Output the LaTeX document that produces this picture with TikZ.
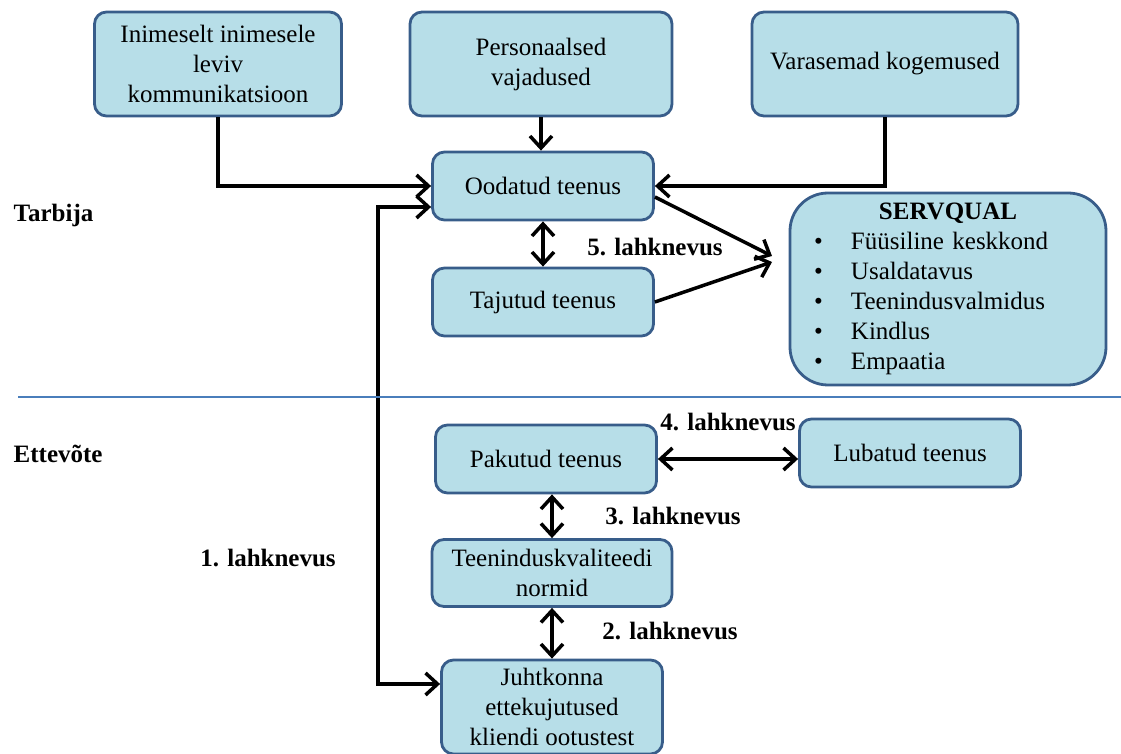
\documentclass[tikz,border=0pt]{standalone}
\usepackage{fontspec}
\setmainfont{Liberation Serif}
\usetikzlibrary{arrows.meta,positioning}
\definecolor{boxfill}{HTML}{B7DEE8}
\definecolor{boxline}{HTML}{385D8A}
\definecolor{sepline}{HTML}{4A7EBB}
\newcommand{\servitem}[1]{\makebox[158pt][l]{\hspace*{12pt}\makebox[18.5pt][l]{\textbullet}#1}}

\begin{document}
\begin{tikzpicture}[x=0.5pt,y=-0.5pt,on grid,line width=1.75pt,
      >={Straight Barb[length=6pt,width=11pt]},
      font=\fontsize{12.5pt}{15pt}\selectfont,
      teenus/.style={draw=boxline,fill=boxfill,line width=1.4pt,rounded corners=6pt,
        align=center,minimum width=110.5pt,minimum height=34pt,inner sep=2pt},
      servbox/.style={teenus,rounded corners=19pt,minimum width=158pt,minimum height=96pt,
        text width=158pt,inner sep=0pt},
      lahk/.style={font=\fontsize{12.5pt}{15pt}\selectfont\bfseries,inner sep=0pt}]
	\useasboundingbox (0,0) rectangle (1121,754);
	% tarbija pool
	\node[teenus,minimum width=123.5pt,minimum height=52pt] (inim) at (218,64) {Inimeselt inimesele\\leviv\\kommunikatsioon};
	\node[teenus,minimum width=131pt,minimum height=52pt] (pers) at (541,64) {Personaalsed\\vajadused};
	\node[teenus,minimum width=133pt,minimum height=52pt] (vara) at (885,64) {Varasemad kogemused};
	\node[teenus] (ood) at (543,186) {Oodatud teenus};
	\node[teenus] (taj) [below=58pt of ood] {Tajutud teenus};
	\node[servbox] (serv) at (948,289) {\textbf{SERVQUAL}\\
		\servitem{Füüsiline keskkond}\\
		\servitem{Usaldatavus}\\
		\servitem{Teenindusvalmidus}\\
		\servitem{Kindlus}\\
		\servitem{Empaatia}};
	% ettevõtte pool
	\node[teenus] (pak) at (546,459) {Pakutud teenus};
	\node[teenus] (lub) [right=182pt of pak,yshift=3pt] {Lubatud teenus};
	\node[teenus,minimum width=120pt,minimum height=33.5pt] (norm) at (552,573) {Teeninduskvaliteedi\\normid};
	\node[teenus,minimum height=47pt] (juht) [below=67pt of norm] {Juhtkonna\\ettekujutused\\kliendi ootustest};
	% sildid
	\node[lahk,anchor=west] (tarbija) at (12,215) {Tarbija};
	\node[lahk,anchor=west] (ettevote) at (12,454) {Ettevõte};
	\node[lahk] (lahk5) at (655,247) {5. lahknevus};
	\node[lahk] (lahk4) at (728,422) {4. lahknevus};
	\node[lahk] (lahk3) at (673,516) {3. lahknevus};
	\node[lahk] (lahk2) at (670,631) {2. lahknevus};
	\node[lahk] (lahk1) at (268,558) {1. lahknevus};
	\coordinate (gap1) at (378,684);
	\coordinate (conv) at (772,259);
	% nooled
	\draw[->] (inim.south) |- (ood.west);
	\draw[->] (vara.south) |- (ood.east);
	\draw[->] (pers.south) -- (pers.south |- ood.north);
	\draw[<->] (ood.south) -- (taj.north);
	\draw[<->] ([yshift=-10.5pt]ood.west) -| (gap1) -- (gap1 -| juht.west);
	\draw[->] ([yshift=-5.5pt]ood.east) -- ([yshift=1.5pt]conv);
	\draw[->] (taj.east) -- ([yshift=-1.5pt]conv);
	\draw[<->] (pak.east) -- (pak.east -| lub.west);
	\draw[<->] (norm.north) -- (norm.north |- pak.south);
	\draw[<->] (norm.south) -- (juht.north);
	\draw[sepline,line width=1pt] (18,397) -- (1121,397);
\end{tikzpicture}
\end{document}
